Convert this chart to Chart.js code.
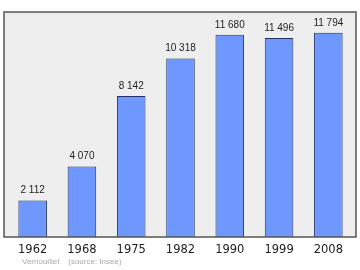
<!DOCTYPE html>
<html>
<head>
<meta charset="utf-8">
<script src="https://cdn.jsdelivr.net/npm/chart.js@4/dist/chart.umd.min.js"></script>
<style>
  html, body { margin: 0; padding: 0; background: #fff; }
  #wrap { width: 360px; height: 270px; }
</style>
</head>
<body>
<div id="wrap"><canvas id="pop"></canvas></div>
<script>
// population data
var years = ['1962', '1968', '1975', '1982', '1990', '1999', '2008'];
var population = [2112, 4070, 8142, 10318, 11680, 11496, 11794];
var yMax = 13000;
var sourceNote = 'Vernouillet    (source: Insee)';

function fmt(n) {
    return String(n).replace(/\B(?=(\d{3})+(?!\d))/g, ' ');
}

// frame behind the bars + border on top
var framePlugin = {
    id: 'frame',
    beforeDatasetsDraw: function (chart) {
        var a = chart.chartArea, ctx = chart.ctx;
        ctx.save();
        ctx.fillStyle = '#eeeeee';
        ctx.fillRect(a.left - 4, a.top, a.right - a.left + 7, a.bottom - a.top);
        ctx.restore();
    },
    afterDatasetsDraw: function (chart) {
        var a = chart.chartArea, ctx = chart.ctx;
        ctx.save();
        ctx.strokeStyle = '#555555';
        ctx.lineWidth = 1.5;
        ctx.strokeRect(a.left - 4, a.top, a.right - a.left + 7, a.bottom - a.top);

        // value labels above bars
        ctx.fillStyle = '#222222';
        ctx.font = '10px "Liberation Sans", Arial, sans-serif';
        ctx.textAlign = 'center';
        ctx.textBaseline = 'bottom';
        chart.getDatasetMeta(0).data.forEach(function (bar, i) {
            ctx.fillText(fmt(population[i]), bar.x, bar.y - 5);
        });

        // source line
        ctx.fillStyle = '#aaaaaa';
        ctx.font = '8px "Liberation Sans", Arial, sans-serif';
        ctx.textAlign = 'left';
        ctx.textBaseline = 'middle';
        ctx.fillText(sourceNote, 22, 262);
        ctx.restore();
    }
};

new Chart(document.getElementById('pop').getContext('2d'), {
    type: 'bar',
    data: {
        labels: years,
        datasets: [{
            data: population,
            backgroundColor: '#6f98ff',
            borderColor: '#23306a',
            borderWidth: 1,
            barPercentage: 0.58,
            categoryPercentage: 1
        }]
    },
    options: {
        responsive: true,
        maintainAspectRatio: false,
        animation: false,
        layout: { padding: { left: 8, right: 7, top: 12, bottom: 0 } },
        plugins: { legend: { display: false }, tooltip: { enabled: false } },
        scales: {
            x: {
                grid: { display: false, drawTicks: false },
                border: { display: false },
                ticks: {
                    padding: 6,
                    color: '#222222',
                    font: { size: 11.5, family: '"DejaVu Sans", sans-serif' }
                },
                afterFit: function (s) { s.height = 33; }
            },
            y: { display: false, min: 0, max: yMax }
        }
    },
    plugins: [framePlugin]
});
</script>
</body>
</html>
